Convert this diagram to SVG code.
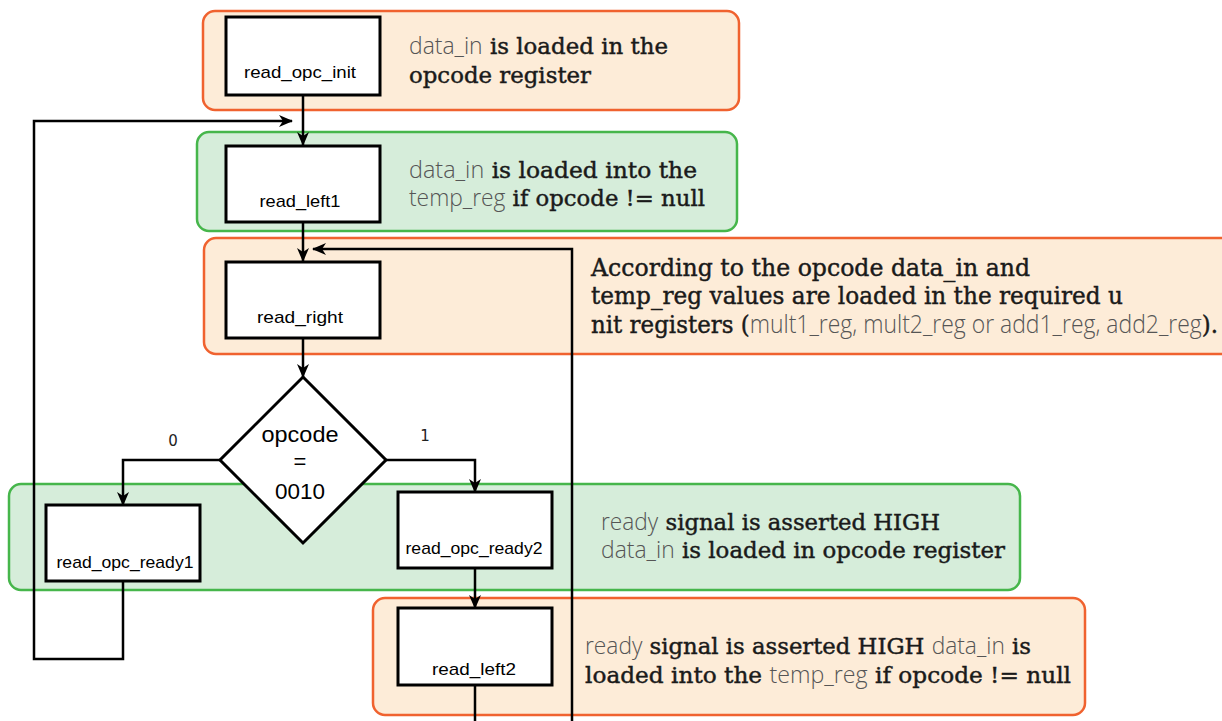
<svg xmlns="http://www.w3.org/2000/svg" width="1222" height="721" viewBox="0 0 1222 721">
<defs>
<marker id="arr" viewBox="0 0 14 12" refX="13" refY="6" markerWidth="14" markerHeight="12" markerUnits="userSpaceOnUse" orient="auto">
<path d="M0,0 L14,6 L0,12 L4,6 Z" fill="#000"/>
</marker>
<style>
.po{fill:#fdecd8;stroke:#f0622f;stroke-width:2.5}
.pg{fill:#d6edda;stroke:#46b64b;stroke-width:2.5}
.box{fill:#fff;stroke:#000;stroke-width:3}
.bt{font-family:"Liberation Sans",Arial,sans-serif;font-size:17px;fill:#000;text-anchor:middle}
.dt{font-family:"Liberation Sans",Arial,sans-serif;font-size:22px;fill:#000;text-anchor:middle}
.lbl{font-family:"DejaVu Sans",sans-serif;font-size:15px;fill:#222;text-anchor:middle}
.desc{font-family:"DejaVu Serif","Liberation Serif",serif;font-size:23px;fill:#1a1a1a;stroke:#1a1a1a;stroke-width:0.45}
.cond{font-size:25px}
.lt{font-family:"Open Sans","Noto Sans",sans-serif;font-weight:300;fill:#555;stroke:none}
.cn{fill:none;stroke:#000;stroke-width:2.5}
</style>
</defs>
<rect width="1222" height="721" fill="#fff"/>
<g id="panels">
<rect class="po" x="203" y="11" width="536" height="99" rx="12"/>
<rect class="pg" x="197" y="132" width="540" height="99" rx="12"/>
<rect class="po" x="204" y="238" width="1030" height="116" rx="12"/>
<rect class="pg" x="9" y="484" width="1011" height="106" rx="12"/>
<rect class="po" x="373" y="598" width="712" height="117" rx="12"/>
</g>
<g id="descriptions">
<text class="desc" x="409" y="54" textLength="259" lengthAdjust="spacingAndGlyphs"><tspan class="lt">data_in</tspan> is loaded in the</text>
<text class="desc" x="409" y="83" textLength="182" lengthAdjust="spacingAndGlyphs">opcode register</text>
<text class="desc" x="409" y="178" textLength="288" lengthAdjust="spacingAndGlyphs"><tspan class="lt">data_in</tspan> is loaded  into the</text>
<text class="desc" x="409" y="206" textLength="296" lengthAdjust="spacingAndGlyphs"><tspan class="lt">temp_reg</tspan> if opcode != null</text>
<text class="desc cond" x="591" y="276" textLength="439" lengthAdjust="spacingAndGlyphs">According to  the opcode data_in and</text>
<text class="desc cond" x="591" y="304" textLength="532" lengthAdjust="spacingAndGlyphs">temp_reg values are loaded in the required u</text>
<text class="desc cond" x="591" y="333" textLength="627" lengthAdjust="spacingAndGlyphs">nit registers (<tspan class="lt">mult1_reg, mult2_reg or add1_reg, add2_reg</tspan>).</text>
<text class="desc" x="601" y="530" textLength="339" lengthAdjust="spacingAndGlyphs"><tspan class="lt">ready</tspan> signal is asserted HIGH</text>
<text class="desc" x="601" y="558" textLength="404" lengthAdjust="spacingAndGlyphs"><tspan class="lt">data_in</tspan> is loaded in opcode register</text>
<text class="desc" x="585" y="654" textLength="446" lengthAdjust="spacingAndGlyphs"><tspan class="lt">ready</tspan> signal is asserted HIGH <tspan class="lt">data_in</tspan> is</text>
<text class="desc" x="585" y="683" textLength="486" lengthAdjust="spacingAndGlyphs">loaded  into the <tspan class="lt">temp_reg</tspan> if opcode != null</text>
</g>
<g id="connectors">
<line class="cn" x1="303" y1="95" x2="303" y2="145" marker-end="url(#arr)"/>
<polyline class="cn" points="123,581 123,659 34,659 34,121 292,121" marker-end="url(#arr)"/>
<line class="cn" x1="303" y1="222" x2="303" y2="261" marker-end="url(#arr)"/>
<polyline class="cn" points="572,721 572,249 313,249" marker-end="url(#arr)"/>
<line class="cn" x1="303" y1="338" x2="303" y2="377" marker-end="url(#arr)"/>
<polyline class="cn" points="220,460 123,460 123,505" marker-end="url(#arr)"/>
<polyline class="cn" points="386,460 475,460 475,492" marker-end="url(#arr)"/>
<line class="cn" x1="475" y1="568" x2="475" y2="608" marker-end="url(#arr)"/>
<line class="cn" x1="475" y1="685" x2="475" y2="721"/>
<text class="lbl" x="173" y="446">0</text>
<text class="lbl" x="425" y="441">1</text>
</g>
<g id="read_opc_init">
<rect class="box" x="226" y="17" width="154" height="78"/>
<text class="bt" x="300" y="78" textLength="112" lengthAdjust="spacingAndGlyphs">read_opc_init</text>
</g>
<g id="read_left1">
<rect class="box" x="226" y="146" width="154" height="76"/>
<text class="bt" x="300" y="207" textLength="81" lengthAdjust="spacingAndGlyphs">read_left1</text>
</g>
<g id="read_right">
<rect class="box" x="226" y="262" width="154" height="76"/>
<text class="bt" x="300" y="323" textLength="86" lengthAdjust="spacingAndGlyphs">read_right</text>
</g>
<g id="decision">
<polygon points="303,377 386,460 303,543 220,460" fill="#fff" stroke="#000" stroke-width="3"/>
<text class="dt" x="300" y="442" textLength="77" lengthAdjust="spacingAndGlyphs">opcode</text>
<text class="dt" x="300" y="469">=</text>
<text class="dt" x="300" y="499" textLength="50" lengthAdjust="spacingAndGlyphs">0010</text>
</g>
<g id="read_opc_ready1">
<rect class="box" x="46" y="505" width="154" height="76"/>
<text class="bt" x="125" y="568" textLength="137" lengthAdjust="spacingAndGlyphs">read_opc_ready1</text>
</g>
<g id="read_opc_ready2">
<rect class="box" x="398" y="492" width="154" height="76"/>
<text class="bt" x="474" y="554" textLength="137" lengthAdjust="spacingAndGlyphs">read_opc_ready2</text>
</g>
<g id="read_left2">
<rect class="box" x="398" y="608" width="154" height="77"/>
<text class="bt" x="474" y="675" textLength="84" lengthAdjust="spacingAndGlyphs">read_left2</text>
</g>
</svg>
